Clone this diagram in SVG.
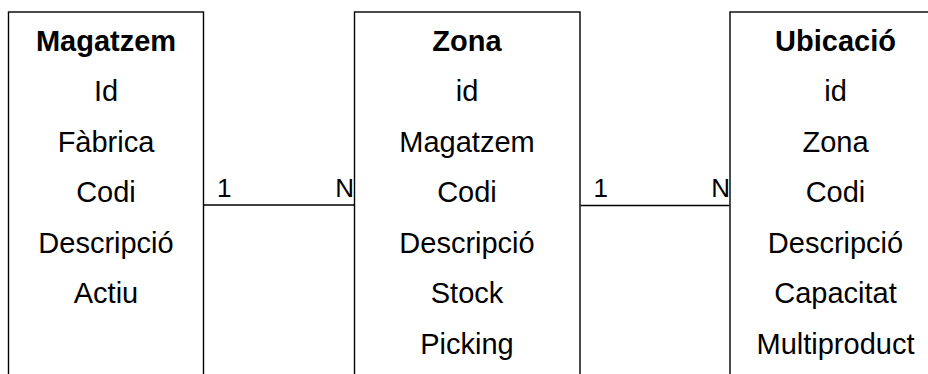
<svg xmlns="http://www.w3.org/2000/svg" width="928" height="374" viewBox="0 0 928 374">
  <style>
    .box { fill: #ffffff; stroke: #000000; stroke-width: 1.4; }
    .title { font-family: "Liberation Sans", Arial, sans-serif; font-size: 29px; font-weight: bold; text-anchor: middle; fill: #000000; }
    .field { font-family: "Liberation Sans", Arial, sans-serif; font-size: 29px; text-anchor: middle; fill: #000000; }
    .card { font-family: "Liberation Sans", Arial, sans-serif; font-size: 26px; fill: #000000; }
    .rel { stroke: #000000; stroke-width: 1.6; fill: none; }
  </style>
  <rect width="928" height="374" fill="#ffffff"/>

  <g id="magatzem">
    <rect class="box" x="8.5" y="12" width="195" height="380"/>
    <text class="title" x="106" y="50.5">Magatzem</text>
    <text class="field" x="106" y="101">Id</text>
    <text class="field" x="106" y="151.5">Fàbrica</text>
    <text class="field" x="106" y="202">Codi</text>
    <text class="field" x="106" y="252.5">Descripció</text>
    <text class="field" x="106" y="303">Actiu</text>
  </g>

  <g id="zona">
    <rect class="box" x="354.5" y="12" width="225.5" height="380"/>
    <text class="title" x="467" y="50.5">Zona</text>
    <text class="field" x="467" y="101">id</text>
    <text class="field" x="467" y="151.5">Magatzem</text>
    <text class="field" x="467" y="202">Codi</text>
    <text class="field" x="467" y="252.5">Descripció</text>
    <text class="field" x="467" y="303">Stock</text>
    <text class="field" x="467" y="353.5">Picking</text>
  </g>

  <g id="ubicacio">
    <rect class="box" x="730" y="12" width="211" height="380"/>
    <text class="title" x="835.5" y="50.5">Ubicació</text>
    <text class="field" x="835.5" y="101">id</text>
    <text class="field" x="835.5" y="151.5">Zona</text>
    <text class="field" x="835.5" y="202">Codi</text>
    <text class="field" x="835.5" y="252.5">Descripció</text>
    <text class="field" x="835.5" y="303">Capacitat</text>
    <text class="field" x="835.5" y="353.5">Multiproduct</text>
  </g>

  <g id="connectors">
    <line class="rel" x1="204" y1="205" x2="354" y2="205"/>
    <text class="card" x="217" y="197">1</text>
    <text class="card" x="354" y="197" text-anchor="end">N</text>
    <line class="rel" x1="580.5" y1="205.5" x2="729.5" y2="205.5"/>
    <text class="card" x="593.5" y="197">1</text>
    <text class="card" x="730" y="197" text-anchor="end">N</text>
  </g>
</svg>
